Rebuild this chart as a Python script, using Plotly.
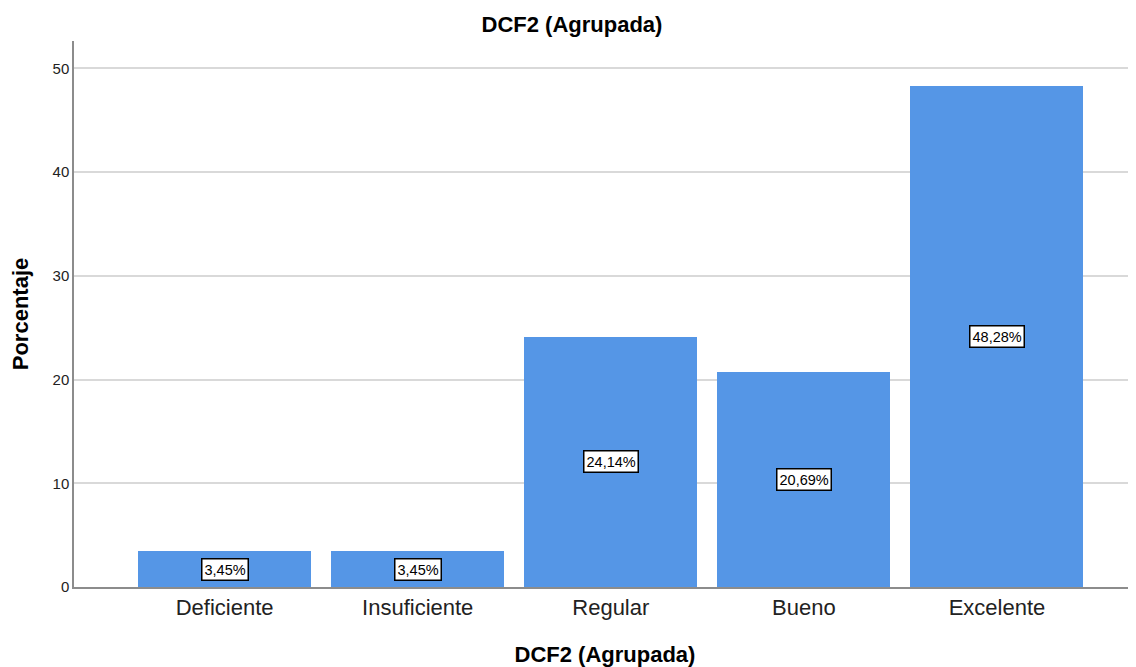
import plotly.graph_objects as go

categories = ["Deficiente", "Insuficiente", "Regular", "Bueno", "Excelente"]
values = [3.45, 3.45, 24.14, 20.69, 48.28]
labels = ["3,45%", "3,45%", "24,14%", "20,69%", "48,28%"]
y_ticks = [0, 10, 20, 30, 40, 50]

FONT = "Liberation Sans, Arial, sans-serif"
BAR = "#5596E6"

fig = go.Figure()
fig.add_trace(go.Bar(
    x=categories, y=values, width=0.896,
    marker=dict(color=BAR, line=dict(width=0)),
    hoverinfo="skip",
))

for c, v, t in zip(categories, values, labels):
    fig.add_annotation(
        x=c, y=v / 2, xref="x", yref="y", text=t, showarrow=False,
        font=dict(family=FONT, size=14.5, color="#000000"),
        bgcolor="#ffffff", bordercolor="#000000", borderwidth=1.5, borderpad=2,
    )

fig.update_layout(
    width=1136, height=667,
    margin=dict(l=66, r=8, t=33, b=88),
    paper_bgcolor="#ffffff", plot_bgcolor="#ffffff",
    showlegend=False,
    bargap=0,
    title=dict(text="<b>DCF2 (Agrupada)</b>", x=564 / 1136, xanchor="center",
               y=1 - 16 / 667, yanchor="middle", yref="container",
               font=dict(family=FONT, size=22, color="#000000")),
    xaxis=dict(
        type="category", range=[-0.78, 4.72],
        showline=True, linecolor="#8c8c8c", linewidth=1.5,
        showgrid=False, ticks="",
        tickfont=dict(family=FONT, size=22, color="#222222"),
        title=dict(text="<b>DCF2 (Agrupada)</b>", standoff=27,
                   font=dict(family=FONT, size=22, color="#000000")),
    ),
    yaxis=dict(
        range=[0, 52.65], tickvals=y_ticks,
        showline=True, linecolor="#8c8c8c", linewidth=1.5,
        showgrid=True, gridcolor="#d9d9d9", gridwidth=1.5,
        zeroline=False, ticks="",
        tickfont=dict(family=FONT, size=15, color="#222222"),
        title=dict(text="<b>Porcentaje</b>", standoff=19,
                   font=dict(family=FONT, size=22, color="#000000")),
    ),
)

fig.write_html("out.html")
